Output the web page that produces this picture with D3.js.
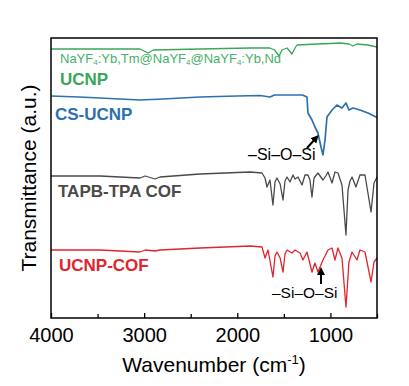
<!DOCTYPE html>
<html><head><meta charset="utf-8">
<script src="https://cdn.jsdelivr.net/npm/d3@7"></script>
<style>body{margin:0;background:#fff;}svg{display:block;font-family:"Liberation Sans",Arial,sans-serif;}</style>
</head><body><div id="chart"></div>
<script>
// Wavenumber (cm-1) / transmittance (a.u., offset traces)
const ucnpWn = [4000,3700,3474,3045,2959,2900,2400,1863,1756,1650,1600,1552,1520,1466,1430,1413,1380,1359,1250,1144,1000,897,800,758,715,600,500];
const ucnpT  = [269,269,269,269,265,268,269,270,270,270,268,262,268,270,266,264,270,273,273.5,274,274.5,275,274,272,274,273,271];

const csWn = [4000,3700,3474,3045,2800,2400,2000,1756,1649,1600,1400,1300,1252,1241,1198,1166,1134,1101,1080,1058,1037,983,930,876,833,801,758,683,597,511,500];
const csT  = [222,221,220,218,219,221,222,222.5,221,223,223,223,221,205,198,191,185,171,163,178,201,208,213,210,215,208,210,208,205,201,201];

const cofWn = [4000,3474,3045,2990,2883,2830,2400,1863,1735,1702,1681,1649,1617,1595,1574,1540,1509,1488,1466,1434,1402,1380,1348,1305,1273,1241,1220,1198,1176,1134,1080,1050,1026,983,951,919,876,833,811,790,768,726,683,629,564,532,500];
const cofT  = [142,142,140,142,139,141,144,146,145,140,131,138,113,136,140,134,118,137,141,136,143,139,141,133,143,143,138,121,140,145,138,142,146,135,146,145,133,83,128,137,141,131,143,143,106,135,141];

const ucnpCofWn = [4000,3474,3045,2990,2883,2830,2400,1863,1735,1702,1670,1617,1595,1574,1540,1509,1488,1466,1413,1380,1327,1295,1252,1198,1166,1134,1080,1026,983,951,919,876,833,801,768,715,683,629,564,532,500];
const ucnpCofT  = [68,68,66,68,67,68,70,72,71,60,68,41,62,66,60,46,64,68,65,68,65,58,66,46,55,46,58,68,70,58,70,60,11,56,66,58,68,66,36,56,60];

const xTicks = [4000,3000,2000,1000];
const xMinor = [3500,2500,1500,500];

const W = 409, H = 386;
const M = {left:51, right:377, top:38, bottom:318};

const svg = d3.select("#chart").append("svg").attr("width",W).attr("height",H);
const x = d3.scaleLinear().domain([4000,500]).range([M.left,M.right]);
const y = d3.scaleLinear().domain([0,280]).range([M.bottom,M.top]);

const line = d3.line().x(d=>x(d[0])).y(d=>y(d[1]));
const series = [
  {wn:ucnpWn, t:ucnpT, color:"#3aa65a", w:1.3},
  {wn:csWn, t:csT, color:"#2c70b0", w:1.7},
  {wn:cofWn, t:cofT, color:"#4a4a4a", w:1.3},
  {wn:ucnpCofWn, t:ucnpCofT, color:"#e0252d", w:1.3}
];
const g = svg.append("g");
series.forEach(s=>{
  g.append("path").datum(s.wn.map((w,i)=>[w,s.t[i]]))
   .attr("d",line).attr("fill","none").attr("stroke",s.color)
   .attr("stroke-width",s.w).attr("stroke-linejoin","round");
});

// frame
svg.append("rect").attr("x",M.left).attr("y",M.top)
  .attr("width",M.right-M.left).attr("height",M.bottom-M.top)
  .attr("fill","none").attr("stroke","#000").attr("stroke-width",1.5);

// bottom axis (ticks inside)
const ax = svg.append("g").attr("transform",`translate(0,${M.bottom})`)
  .call(d3.axisBottom(x).tickValues(xTicks).tickSize(-5).tickPadding(10).tickFormat(d3.format("d")));
ax.select(".domain").remove();
ax.selectAll("line").attr("stroke","#000").attr("stroke-width",1.3);
ax.selectAll("text").attr("font-size","20px").attr("fill","#000").attr("font-family","Liberation Sans, Arial, sans-serif");
const axm = svg.append("g").attr("transform",`translate(0,${M.bottom})`)
  .call(d3.axisBottom(x).tickValues(xMinor).tickSize(-4).tickFormat(""));
axm.select(".domain").remove();
axm.selectAll("line").attr("stroke","#000").attr("stroke-width",1.3);

// axis titles
const xt = svg.append("text").attr("x",(M.left+M.right)/2).attr("y",372)
  .attr("text-anchor","middle").attr("font-size","21px").attr("fill","#000");
xt.append("tspan").text("Wavenumber (cm");
xt.append("tspan").attr("font-size","13px").attr("dy","-8").text("-1");
xt.append("tspan").attr("dy","8").text(")");

svg.append("text").attr("transform",`translate(36,${(M.top+M.bottom)/2}) rotate(-90)`)
  .attr("text-anchor","middle").attr("font-size","21px").attr("fill","#000")
  .text("Transmittance (a.u.)");

// labels
const lab = svg.append("text").attr("x",60).attr("y",65).attr("font-size","13px").attr("fill","#45b06a");
[["NaYF",0],["4",1],[":Yb,Tm@NaYF",0],["4",1],["@NaYF",0],["4",1],[":Yb,Nd",0]].forEach(p=>{
  if(p[1]) lab.append("tspan").attr("font-size","8px").attr("dy","2").text(p[0]);
  else lab.append("tspan").attr("dy", lab.selectAll("tspan").size() ? "-2" : "0").attr("font-size","13px").text(p[0]);
});
const labels = [
  {t:"UCNP", x:60, y:85, c:"#3aa65a"},
  {t:"CS-UCNP", x:55, y:120, c:"#2c70b0"},
  {t:"TAPB-TPA COF", x:58, y:197, c:"#4a4a4a"},
  {t:"UCNP-COF", x:59, y:271, c:"#e0252d"}
];
labels.forEach(l=>svg.append("text").attr("x",l.x).attr("y",l.y).attr("font-size","17px")
  .attr("font-weight","bold").attr("fill",l.c).text(l.t));

// annotations
svg.append("defs").append("marker").attr("id","ah").attr("viewBox","0 0 10 10")
  .attr("refX",5).attr("refY",5).attr("markerWidth",4).attr("markerHeight",4).attr("orient","auto")
  .append("path").attr("d","M0,0 L10,5 L0,10 z").attr("fill","#000");
svg.append("text").attr("x",248).attr("y",160).attr("font-size","16px").attr("fill","#000").text("\u2013Si\u2013O\u2013Si");
svg.append("line").attr("x1",307).attr("y1",148).attr("x2",316).attr("y2",138)
  .attr("stroke","#000").attr("stroke-width",2).attr("marker-end","url(#ah)");
svg.append("text").attr("x",272).attr("y",298).attr("font-size","15.5px").attr("fill","#000").text("\u2013Si\u2013O\u2013Si");
svg.append("line").attr("x1",321).attr("y1",284).attr("x2",321).attr("y2",271)
  .attr("stroke","#000").attr("stroke-width",2).attr("marker-end","url(#ah)");
</script></body></html>
